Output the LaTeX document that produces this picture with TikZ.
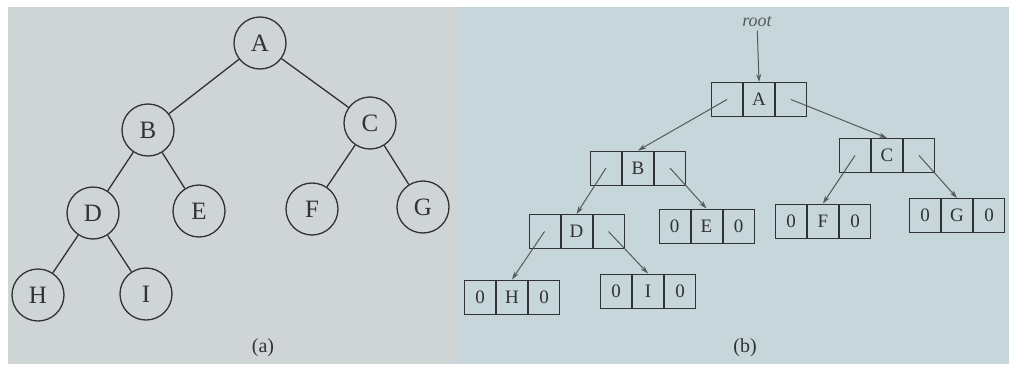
\documentclass[tikz,border=0pt]{standalone}
\usepackage{fontspec}
\setmainfont{Liberation Serif}
\usetikzlibrary{arrows.meta, positioning}
\definecolor{panelgray}{RGB}{207, 212, 213}
\definecolor{panelblue}{RGB}{198, 214, 219}
\definecolor{inkgray}{RGB}{48, 50, 52}
\definecolor{linkgray}{RGB}{84, 90, 94}

\begin{document}
\begin{tikzpicture}[x=1pt, y=-1pt,
    treenode/.style={circle, draw=inkgray, line width=1.3pt, minimum size=52pt, inner sep=0pt, text=inkgray, font=\fontsize{25}{25}\selectfont},
    edge/.style={draw=inkgray, line width=1.3pt},
    cell/.style={rectangle, draw=inkgray, line width=1pt, minimum width=31pt, minimum height=34pt, inner sep=0pt, text=inkgray, font=\fontsize{19}{19}\selectfont},
    link/.style={draw=linkgray, line width=1pt, -{Stealth[length=8pt, width=5pt]}},
    caption/.style={text=inkgray, font=\fontsize{20}{20}\selectfont}]
  \useasboundingbox (0,0) rectangle (1009,364);
  \fill[white] (0,0) rectangle (1009,364);
  \fill[panelgray] (8,7) rectangle (457,364);
  \fill[panelblue] (457,7) rectangle (1009,364);

  % (a) tree drawn with circles
  \foreach \n/\x/\y in {A/260/43, B/148/130, C/370/123, D/93/213, E/199/211, F/312/209, G/423/207, H/38/295, I/146/294} {
    \node[treenode] (\n) at (\x,\y) {\n};
  }
  \foreach \pa/\ch in {A/B, A/C, B/D, B/E, C/F, C/G, D/H, D/I} {
    \draw[edge] (\pa) -- (\ch);
  }
  \node[caption] (capa) at (263,348) {(a)};

  % (b) linked representation, three cells per node
  \foreach \n/\x/\y in {A/759/99.5, B/638/168, C/887/155.5, D/576.5/231.5} {
    \node[cell] (b\n) at (\x,\y) {\n};
    \node[cell, left=0pt of b\n] (b\n l) {};
    \node[cell, right=0pt of b\n] (b\n r) {};
  }
  % leaves: both links are 0
  \foreach \n/\x/\y in {E/706.5/226, F/823/221, G/957/215.5, H/512/297, I/648/291} {
    \node[cell] (b\n) at (\x,\y) {\n};
    \node[cell, left=0pt of b\n] (b\n l) {0};
    \node[cell, right=0pt of b\n] (b\n r) {0};
  }
  \foreach \s/\t in {Al/B, Ar/C, Bl/D, Br/E, Cl/F, Cr/G, Dl/H, Dr/I} {
    \draw[link] (b\s.center) -- (b\t.north);
  }
  \node[text=linkgray, font=\fontsize{18}{18}\selectfont\itshape] (root) at (757,22) {root};
  \draw[link] (root) -- (bA.north);
  \node[caption] (capb) at (745,348) {(b)};
\end{tikzpicture}
\end{document}
